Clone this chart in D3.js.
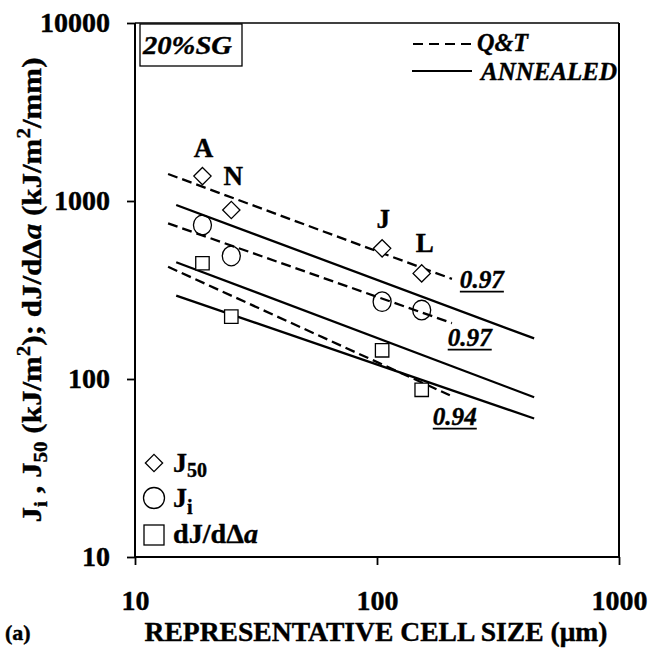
<!DOCTYPE html>
<html>
<head>
<meta charset="utf-8">
<script src="https://cdn.jsdelivr.net/npm/d3@7"></script>
<style>
  html, body { margin: 0; padding: 0; background: #fff; }
  svg { display: block; }
  text { font-family: "Liberation Serif", "Times New Roman", serif; font-weight: bold; fill: #000; stroke: #000; stroke-width: 0.4px; }
</style>
</head>
<body>
<div id="chart"></div>
<script>
// cell size of the four materials (um) and their labels
var cellSize = [19, 25, 105, 153];
var pointLabels = ["A", "N", "J", "L"];

// measured toughness values
var j50 = [1380, 890, 542, 392];
var ji = [733, 491, 272, 244];
var dJda = [447, 224, 145, 87];

// regression lines, start / end of each
var fitNames = ["qtJ50", "annJ50", "qtJi", "annJi", "qtDJ", "annDJ"];
var fitDashed = [true, false, true, false, true, false];
var fitX = [[13.7, 204], [14.8, 446], [13.7, 204], [14.8, 446], [13.7, 200], [14.8, 446]];
var fitY = [[1418, 365], [950, 169], [749, 206], [453, 79], [427, 81], [294, 60]];

// correlation coefficients written next to the lines
var rText = ["0.97", "0.97", "0.94"];
var rAtX = [220, 196, 170];
var rAtY = [324, 153, 55];

var xTicks = [10, 100, 1000];
var yTicks = [10, 100, 1000, 10000];

var width = 660,
    height = 651;

var svg = d3.select("#chart").append("svg")
    .attr("width", width)
    .attr("height", height);

var x = d3.scaleLog().domain([10, 1000]).range([135, 619]);
var y = d3.scaleLog().domain([10, 10000]).range([557, 23]);

// axes
var yAxis = d3.axisLeft(y)
    .tickValues(yTicks)
    .tickFormat(d3.format("d"))
    .tickSize(8)
    .tickSizeOuter(0)
    .tickPadding(17);

var xAxis = d3.axisBottom(x)
    .tickValues(xTicks)
    .tickFormat(d3.format("d"))
    .tickSize(8)
    .tickSizeOuter(0)
    .tickPadding(25);

var gy = svg.append("g")
    .attr("transform", "translate(135,0)")
    .call(yAxis);
var gx = svg.append("g")
    .attr("transform", "translate(0,557)")
    .call(xAxis);

[gx, gy].forEach(function(g) {
    g.select(".domain").remove();
    g.selectAll(".tick line").attr("stroke", "#000").attr("stroke-width", 1.8);
    g.selectAll(".tick text")
        .attr("fill", "#000")
        .style("font-size", "28px")
        .style("font-family", '"Liberation Serif", "Times New Roman", serif')
        .style("font-weight", "bold");
});

// frame
svg.append("line")
    .attr("x1", x(10)).attr("x2", x(1000))
    .attr("y1", y(10000)).attr("y2", y(10000))
    .attr("stroke", "#000").attr("stroke-width", 1.4);
svg.append("line")
    .attr("x1", x(10)).attr("x2", x(10))
    .attr("y1", y(10000)).attr("y2", y(10))
    .attr("stroke", "#000").attr("stroke-width", 2);
svg.append("line")
    .attr("x1", x(1000)).attr("x2", x(1000))
    .attr("y1", y(10000)).attr("y2", y(10))
    .attr("stroke", "#000").attr("stroke-width", 2);
svg.append("line")
    .attr("x1", x(10)).attr("x2", x(1000))
    .attr("y1", y(10)).attr("y2", y(10))
    .attr("stroke", "#000").attr("stroke-width", 2);

// fitted lines
fitNames.forEach(function(name, i) {
    svg.append("line")
        .attr("class", "fit " + name)
        .attr("x1", x(fitX[i][0])).attr("y1", y(fitY[i][0]))
        .attr("x2", x(fitX[i][1])).attr("y2", y(fitY[i][1]))
        .attr("stroke", "#000")
        .attr("stroke-width", 2.3)
        .attr("stroke-dasharray", fitDashed[i] ? "10,5" : null);
});

// markers
var diamond = d3.symbol().type(d3.symbolDiamond2).size(190);
var square = d3.symbol().type(d3.symbolSquare2).size(230);

svg.selectAll(".j50")
    .data(cellSize)
    .enter().append("path")
    .attr("class", "j50")
    .attr("d", diamond)
    .attr("transform", function(d, i) {
        return "translate(" + x(d) + "," + y(j50[i]) + ")";
    })
    .attr("fill", "#fff").attr("stroke", "#000").attr("stroke-width", 1.3);

svg.selectAll(".ji")
    .data(cellSize)
    .enter().append("ellipse")
    .attr("class", "ji")
    .attr("cx", function(d) { return x(d); })
    .attr("cy", function(d, i) { return y(ji[i]); })
    .attr("rx", 9).attr("ry", 9.8)
    .attr("fill", "none").attr("stroke", "#000").attr("stroke-width", 1.3);

svg.selectAll(".dj")
    .data(cellSize)
    .enter().append("path")
    .attr("class", "dj")
    .attr("d", square)
    .attr("transform", function(d, i) {
        return "translate(" + x(d) + "," + y(dJda[i]) + ")";
    })
    .attr("fill", "#fff").attr("stroke", "#000").attr("stroke-width", 1.3);

// point letters
var labelDx = [1, 2, 1, 3];
var labelDy = [-19, -25, -20, -21];
svg.selectAll(".plabel")
    .data(pointLabels)
    .enter().append("text")
    .attr("class", "plabel")
    .attr("x", function(d, i) { return x(cellSize[i]) + labelDx[i]; })
    .attr("y", function(d, i) { return y(j50[i]) + labelDy[i]; })
    .attr("text-anchor", "middle")
    .style("font-size", "27px")
    .text(function(d) { return d; });

// r values, underlined
rText.forEach(function(t, i) {
    var tx = svg.append("text")
        .attr("x", x(rAtX[i]))
        .attr("y", y(rAtY[i]))
        .attr("textLength", 44).attr("lengthAdjust", "spacingAndGlyphs")
        .style("font-size", "25px")
        .style("font-style", "italic")
        .text(t);
    svg.append("line")
        .attr("x1", x(rAtX[i])).attr("x2", x(rAtX[i]) + 44)
        .attr("y1", y(rAtY[i]) + 3.5).attr("y2", y(rAtY[i]) + 3.5)
        .attr("stroke", "#000").attr("stroke-width", 1.8);
});

// 20%SG box
svg.append("rect")
    .attr("x", 140).attr("y", 24)
    .attr("width", 102).attr("height", 42)
    .attr("fill", "none").attr("stroke", "#000").attr("stroke-width", 1.3);
svg.append("text")
    .attr("x", 143).attr("y", 54)
    .attr("textLength", 89).attr("lengthAdjust", "spacingAndGlyphs")
    .style("font-size", "26px").style("font-style", "italic")
    .text("20%SG");

// line legend
svg.append("line")
    .attr("x1", 413).attr("x2", 472).attr("y1", 44).attr("y2", 44)
    .attr("stroke", "#000").attr("stroke-width", 2).attr("stroke-dasharray", "10,6");
svg.append("text")
    .attr("x", 477).attr("y", 51)
    .attr("textLength", 51).attr("lengthAdjust", "spacingAndGlyphs")
    .style("font-size", "26px").style("font-style", "italic")
    .text("Q&T");
svg.append("line")
    .attr("x1", 412).attr("x2", 472).attr("y1", 71).attr("y2", 71)
    .attr("stroke", "#000").attr("stroke-width", 2);
svg.append("text")
    .attr("x", 481).attr("y", 80)
    .attr("textLength", 136).attr("lengthAdjust", "spacingAndGlyphs")
    .style("font-size", "26px").style("font-style", "italic")
    .text("ANNEALED");

// marker legend
svg.append("path").attr("d", diamond)
    .attr("transform", "translate(154,463)")
    .attr("fill", "#fff").attr("stroke", "#000").attr("stroke-width", 1.3);
svg.append("circle").attr("cx", 154).attr("cy", 498).attr("r", 10.5)
    .attr("fill", "none").attr("stroke", "#000").attr("stroke-width", 1.3);
svg.append("rect").attr("x", 144).attr("y", 525).attr("width", 20).attr("height", 20)
    .attr("fill", "none").attr("stroke", "#000").attr("stroke-width", 1.3);

var l1 = svg.append("text").attr("x", 173).attr("y", 472).style("font-size", "28px");
l1.append("tspan").text("J");
l1.append("tspan").attr("dy", 5).style("font-size", "20px").text("50");
var l2 = svg.append("text").attr("x", 173).attr("y", 507).style("font-size", "28px");
l2.append("tspan").text("J");
l2.append("tspan").attr("dy", 7).style("font-size", "20px").text("i");
var l3 = svg.append("text").attr("x", 173).attr("y", 543)
    .attr("textLength", 85).attr("lengthAdjust", "spacingAndGlyphs")
    .style("font-size", "28px");
l3.append("tspan").text("dJ/d\u0394");
l3.append("tspan").style("font-style", "italic").text("a");

// axis titles
svg.append("text")
    .attr("x", 376).attr("y", 641)
    .attr("text-anchor", "middle")
    .attr("textLength", 463).attr("lengthAdjust", "spacingAndGlyphs")
    .style("font-size", "28px")
    .text("REPRESENTATIVE CELL SIZE (\u03bcm)");

svg.append("text")
    .attr("x", 5).attr("y", 640)
    .style("font-size", "22px")
    .text("(a)");

var yt = svg.append("text")
    .attr("transform", "translate(41,290) rotate(-90)")
    .attr("text-anchor", "middle")
    .attr("textLength", 465).attr("lengthAdjust", "spacingAndGlyphs")
    .style("font-size", "28px");
yt.append("tspan").text("J");
yt.append("tspan").attr("dy", 6).style("font-size", "19px").text("i");
yt.append("tspan").attr("dy", -6).text(" , J");
yt.append("tspan").attr("dy", 6).style("font-size", "19px").text("50");
yt.append("tspan").attr("dy", -6).text(" (kJ/m");
yt.append("tspan").attr("dy", -11).style("font-size", "19px").text("2");
yt.append("tspan").attr("dy", 11).text("); dJ/d\u0394");
yt.append("tspan").style("font-style", "italic").text("a");
yt.append("tspan").text("  (kJ/m");
yt.append("tspan").attr("dy", -11).style("font-size", "19px").text("2");
yt.append("tspan").attr("dy", 11).text("/mm)");
</script>
</body>
</html>
